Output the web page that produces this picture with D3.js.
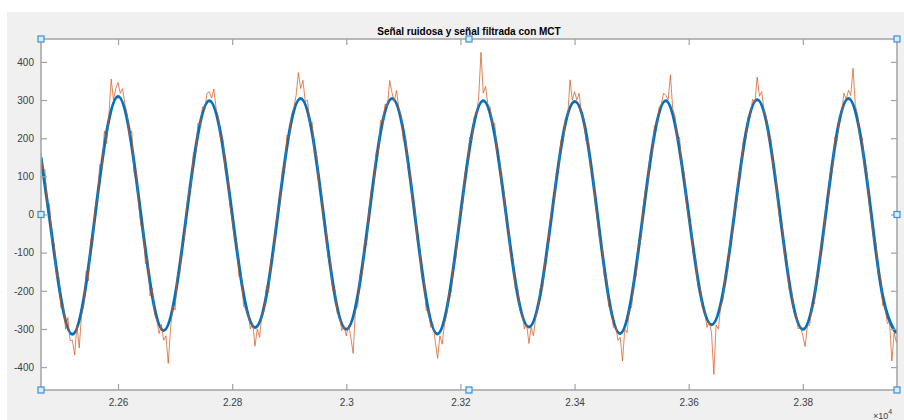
<!DOCTYPE html>
<html><head><meta charset="utf-8">
<script src="https://cdn.jsdelivr.net/npm/d3@7"></script>
<style>body{margin:0;background:#fff}svg{display:block}</style>
</head><body><svg id="c" width="904" height="420"></svg>
<script>
const title = "Señal ruidosa y señal filtrada con MCT";
const xExponent = "4";
const xDomain = [22465, 23965];
const yDomain = [-460, 460];
const xTicks = [22600, 22800, 23000, 23200, 23400, 23600, 23800];
const xTickLabels = ["2.26", "2.28", "2.3", "2.32", "2.34", "2.36", "2.38"];
const yTicks = [-400, -300, -200, -100, 0, 100, 200, 300, 400];
const yTickLabels = ["-400", "-300", "-200", "-100", "0", "100", "200", "300", "400"];

// filtered signal (blue) read at key points
const blueSamples = [22465, 22480, 22500, 22520, 22540, 22560, 22580, 22600, 22620, 22640, 22660, 22680, 22700, 22720, 22740, 22760, 22780, 22800, 22820, 22840, 22860, 22880, 22900, 22920, 22940, 22960, 22980, 23000, 23020, 23040, 23060, 23080, 23100, 23120, 23140, 23160, 23180, 23200, 23220, 23240, 23260, 23280, 23300, 23320, 23340, 23360, 23380, 23400, 23420, 23440, 23460, 23480, 23500, 23520, 23540, 23560, 23580, 23600, 23620, 23640, 23660, 23680, 23700, 23720, 23740, 23760, 23780, 23800, 23820, 23840, 23860, 23880, 23900, 23920, 23940, 23960, 23965];
const blueValues = [150, -10, -220, -314, -220, 0, 216, 309, 217, 0, -214, -304, -213, 0, 210, 298, 210, 0, -209, -296, -212, 0, 215, 304, 215, 0, -213, -301, -213, 0, 215, 304, 218, 0, -220, -313, -215, 0, 210, 298, 209, 0, -209, -295, -209, 0, 209, 296, 215, 0, -220, -312, -215, 0, 210, 298, 206, 0, -204, -289, -206, 0, 212, 301, 213, 0, -213, -301, -214, 0, 215, 304, 215, 0, -214, -303, -302];

// noisy signal (orange), one value every 4 samples from sample 22464
const noisyStart = 22464, noisyStep = 4;
const noisyValues = [
172, 118, 118, 25, 28, -72, -74, -162, -160, -245, -236, -300, -270, -330,
-330, -368, -290, -350, -262, -237, -149, -174, -65, -71, 20, 38, 131, 120, 219, 186, 262, 355, 300, 330,
346, 318, 330, 290, 262, 203, 219, 110, 116, 28, -30, -28, -129, -113, -213, -193, -262, -278, -312, -288,
-330, -318, -390, -300, -240, -250, -158, -158, -74, -68, 15, 59, 72, 163, 157, 239, 236, 282, 276, 318,
322, 305, 329, 276, 254, 193, 197, 113, 107, 25, -15, -66, -72, -164, -159, -241, -248, -262, -300, -284,
-345, -300, -322, -262, -250, -187, -204, -119, -107, -31, 10, 28, 119, 118, 208, 197, 262, 280, 312, 372,
330, 352, 296, 300, 238, 243, 158, 158, 79, 68, -20, -29, -115, -119, -199, -195, -258, -266, -304, -292,
-318, -290, -322, -364, -250, -241, -155, -159, -71, -69, 15, 68, 74, 163, 158, 247, 240, 290, 282, 351,
320, 296, 325, 278, 258, 193, 203, 118, 114, 28, 20, -67, -79, -167, -164, -252, -250, -296, -288, -334,
-377, -318, -340, -288, -262, -202, -204, -122, -115, -31, 8, 29, 112, 117, 203, 193, 256, 262, 306, 425,
318, 336, 290, 282, 236, 239, 157, 153, 72, 65, -15, -31, -112, -114, -194, -187, -252, -258, -300, -286,
-338, -296, -318, -268, -246, -191, -194, -119, -107, -31, 15, 31, 112, 119, 194, 187, 252, 258, 353, 300,
322, 300, 318, 262, 250, 191, 194, 119, 107, 31, -15, -67, -79, -162, -165, -243, -246, -296, -290, -330,
-322, -384, -300, -310, -250, -243, -165, -162, -79, -67, 15, 65, 77, 157, 157, 233, 236, 280, 290, 318,
312, 300, 366, 276, 258, 193, 203, 117, 112, 29, -15, -27, -107, -113, -190, -189, -246, -252, -296, -280,
-310, -419, -290, -300, -240, -224, -155, -153, -71, -63, 15, 29, 111, 119, 199, 195, 256, 262, 302, 292,
360, 310, 322, 270, 256, 195, 199, 119, 111, 29, -20, -29, -111, -119, -199, -195, -256, -262, -300, -292,
-318, -346, -292, -290, -238, -235, -159, -155, -75, -65, 20, 28, 114, 118, 203, 193, 258, 266, 318, 302,
326, 312, 383, 286, 262, 197, 203, 118, 114, 28, -15, -65, -74, -159, -159, -239, -240, -286, -282, -384,
-310, -336, -300
];

const svg = d3.select("#c");
const W = 904, H = 420;
const m = {left: 41, top: 39, right: 897, bottom: 390};
const font = "'Liberation Sans', Arial, Helvetica, sans-serif";

// figure background
svg.append("rect").attr("x", 0).attr("y", 0).attr("width", W).attr("height", H).attr("fill", "#ffffff");
svg.append("rect").attr("x", 7).attr("y", 12).attr("width", W - 7).attr("height", H - 12).attr("fill", "#f0f0f0");
svg.append("rect").attr("x", m.left).attr("y", m.top).attr("width", m.right - m.left).attr("height", m.bottom - m.top).attr("fill", "#ffffff");

const x = d3.scaleLinear().domain(xDomain).range([m.left, m.right]);
const y = d3.scaleLinear().domain(yDomain).range([m.bottom, m.top]);

svg.append("defs").append("clipPath").attr("id", "clip")
  .append("rect").attr("x", m.left).attr("y", m.top).attr("width", m.right - m.left).attr("height", m.bottom - m.top);

const plot = svg.append("g").attr("clip-path", "url(#clip)");

const blueData = blueSamples.map((s, i) => [s, blueValues[i]]);
const noisyData = noisyValues.map((v, i) => [noisyStart + i * noisyStep, v]);

plot.append("path").datum(blueData)
  .attr("fill", "none").attr("stroke", "#0072BD").attr("stroke-width", 3).attr("stroke-linejoin", "round")
  .attr("d", d3.line().x(d => x(d[0])).y(d => y(d[1])).curve(d3.curveNatural));

plot.append("path").datum(noisyData)
  .attr("fill", "none").attr("stroke", "#D95319").attr("stroke-width", 0.9).attr("stroke-opacity", 0.8)
  .attr("stroke-linejoin", "round")
  .attr("d", d3.line().x(d => x(d[0])).y(d => y(d[1])));

// axes
const axisColor = "#a3a3a3";
const textColor = "#404040";
function styleAxis(g) {
  g.select(".domain").remove();
  g.selectAll(".tick line").attr("stroke", axisColor).attr("stroke-width", 1.2);
  g.selectAll(".tick text").attr("fill", textColor).attr("font-family", font).attr("font-size", 10);
}
svg.append("g").attr("transform", `translate(0,${m.bottom})`)
  .call(d3.axisBottom(x).tickValues(xTicks).tickFormat((d, i) => xTickLabels[i]).tickSizeInner(-6).tickSizeOuter(0).tickPadding(9))
  .call(styleAxis);
svg.append("g").attr("transform", `translate(0,${m.top})`)
  .call(d3.axisTop(x).tickValues(xTicks).tickFormat("").tickSizeInner(-6).tickSizeOuter(0))
  .call(styleAxis);
svg.append("g").attr("transform", `translate(${m.left},0)`)
  .call(d3.axisLeft(y).tickValues(yTicks).tickFormat((d, i) => yTickLabels[i]).tickSizeInner(-6).tickSizeOuter(0).tickPadding(7))
  .call(styleAxis);
svg.append("g").attr("transform", `translate(${m.right},0)`)
  .call(d3.axisRight(y).tickValues(yTicks).tickFormat("").tickSizeInner(-6).tickSizeOuter(0))
  .call(styleAxis);

svg.append("rect").attr("x", m.left).attr("y", m.top).attr("width", m.right - m.left).attr("height", m.bottom - m.top)
  .attr("fill", "none").attr("stroke", axisColor).attr("stroke-width", 1.5);

// exponent label
const ex = svg.append("text").attr("x", 873).attr("y", 419).attr("fill", textColor)
  .attr("font-family", font).attr("font-size", 9);
ex.append("tspan").text("×10");
ex.append("tspan").attr("dy", -5).attr("font-size", 7).text(xExponent);

// title
svg.append("text").attr("x", (m.left + m.right) / 2).attr("y", 35).attr("text-anchor", "middle")
  .attr("fill", "#000").attr("font-family", font).attr("font-weight", "bold").attr("font-size", 10)
  .text(title);

// selection handles
const hx = [m.left, (m.left + m.right) / 2, m.right];
const hy = [m.top, (m.top + m.bottom) / 2, m.bottom];
const handles = [];
hx.forEach((a, i) => hy.forEach((b, j) => { if (!(i === 1 && j === 1)) handles.push([a, b]); }));
svg.selectAll(".handle").data(handles).enter().append("rect")
  .attr("x", d => d[0] - 3).attr("y", d => d[1] - 3).attr("width", 6).attr("height", 6)
  .attr("fill", "#dcebf8").attr("stroke", "#3b8fdc").attr("stroke-width", 1.2);
</script>
</body></html>
